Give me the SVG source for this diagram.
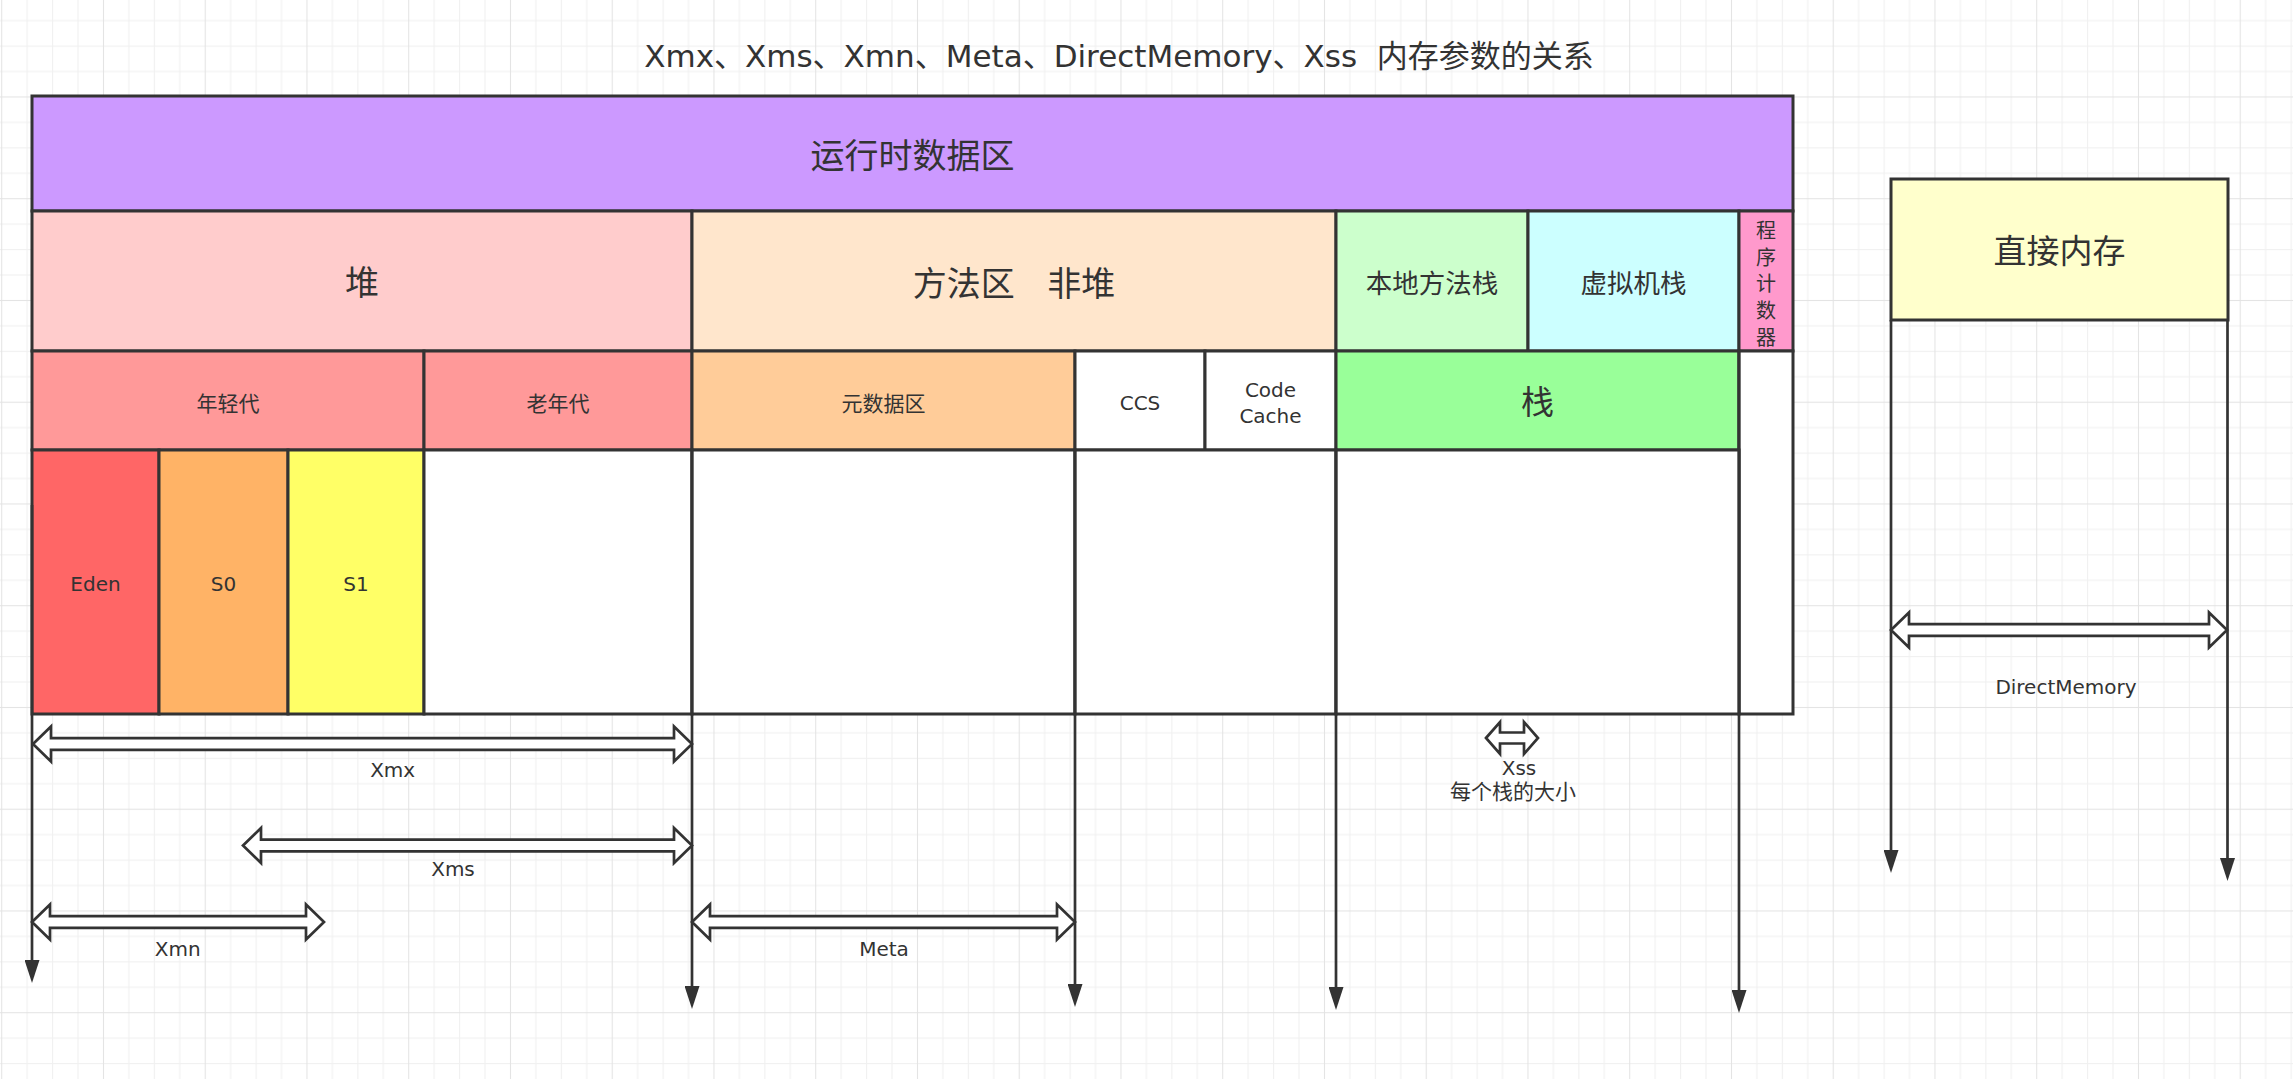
<svg xmlns="http://www.w3.org/2000/svg" width="2293" height="1079" viewBox="0 0 2293 1079">
<style>
.cell{stroke:#333333;stroke-width:3}
.t{font-family:"DejaVu Sans","Noto Sans CJK SC",sans-serif;fill:#333333;text-anchor:middle}
.big{font-size:34px}
.mid{font-size:26.5px}
.sm{font-size:20px}
.cjk{font-size:21px}
.vline{fill:none;stroke:#333333;stroke-width:2.7}
.barrow{fill:#ffffff;stroke:#333333;stroke-width:2.7;stroke-linejoin:miter}
</style>
<defs>
<pattern id="grid" patternUnits="userSpaceOnUse" x="1.2" y="-5.3" width="101.75" height="101.75">
<rect x="0" y="0" width="101.75" height="101.75" fill="#ffffff"/>
<g fill="#f0f0f0">
<rect x="25.44" y="0" width="1" height="101.75"/>
<rect x="50.88" y="0" width="1" height="101.75"/>
<rect x="76.31" y="0" width="1" height="101.75"/>
<rect x="0" y="25.44" width="101.75" height="1"/>
<rect x="0" y="50.88" width="101.75" height="1"/>
<rect x="0" y="76.31" width="101.75" height="1"/>
</g>
<g fill="#e3e3e3">
<rect x="0" y="0" width="1" height="101.75"/>
<rect x="0" y="0" width="101.75" height="1"/>
</g>
</pattern>
<marker id="ah" viewBox="0 0 23 15" markerUnits="userSpaceOnUse" markerWidth="23" markerHeight="15" refX="13" refY="7.5" orient="auto">
<path d="M0,0 L23,7.5 L0,15 Z" fill="#333333"/>
</marker>
</defs>
<rect x="0" y="0" width="2293" height="1079" fill="url(#grid)"/>

<text class="t" x="1119" y="67" font-size="31px" xml:space="preserve">Xmx、Xms、Xmn、Meta、DirectMemory、Xss  内存参数的关系</text>

<g id="runtime"><rect class="cell" x="32" y="96" width="1761" height="115" fill="#CC99FF"/><text class="t big" x="912.5" y="168">运行时数据区</text></g>
<g id="heap"><rect class="cell" x="32" y="211" width="660" height="140" fill="#FFCCCC"/><text class="t big" x="362" y="295">堆</text></g>
<g id="method"><rect class="cell" x="692" y="211" width="644" height="140" fill="#FFE6CC"/><text class="t big" x="1014" y="296" xml:space="preserve">方法区   非堆</text></g>
<g id="native"><rect class="cell" x="1336" y="211" width="192" height="140" fill="#CCFFCC"/><text class="t mid" x="1432" y="292.5">本地方法栈</text></g>
<g id="vmstack"><rect class="cell" x="1528" y="211" width="211" height="140" fill="#CCFFFF"/><text class="t mid" x="1633.5" y="292.5">虚拟机栈</text></g>
<g id="pc"><rect class="cell" x="1739" y="211" width="54" height="140" fill="#FF99CC"/><text class="t" font-size="20px" x="1766"><tspan x="1766" y="238">程</tspan><tspan x="1766" y="264.7">序</tspan><tspan x="1766" y="291.3">计</tspan><tspan x="1766" y="318">数</tspan><tspan x="1766" y="344.7">器</tspan></text></g>

<g id="young"><rect class="cell" x="32" y="351" width="392" height="99" fill="#FF9999"/><text class="t cjk" x="228" y="410.5">年轻代</text></g>
<g id="old"><rect class="cell" x="424" y="351" width="268" height="99" fill="#FF9999"/><text class="t cjk" x="558" y="410.5">老年代</text></g>
<g id="metadata"><rect class="cell" x="692" y="351" width="383" height="99" fill="#FFCC99"/><text class="t cjk" x="883.5" y="410.5">元数据区</text></g>
<g id="ccs"><rect class="cell" x="1075" y="351" width="130" height="99" fill="#FFFFFF"/><text class="t sm" x="1140" y="409.5">CCS</text></g>
<g id="codecache"><rect class="cell" x="1205" y="351" width="131" height="99" fill="#FFFFFF"/><text class="t sm" x="1270.5"><tspan x="1270.5" y="396.7">Code</tspan><tspan x="1270.5" y="423.3">Cache</tspan></text></g>
<g id="stack"><rect class="cell" x="1336" y="351" width="403" height="99" fill="#99FF99"/><text class="t" font-size="33px" x="1537.5" y="414">栈</text></g>
<g id="pcbelow"><rect class="cell" x="1739" y="351" width="54" height="363" fill="#FFFFFF"/></g>

<g id="eden"><rect class="cell" x="32" y="450" width="127" height="264" fill="#FF6666"/><text class="t sm" x="95.5" y="591">Eden</text></g>
<g id="s0"><rect class="cell" x="159" y="450" width="129" height="264" fill="#FFB366"/><text class="t sm" x="223.5" y="591">S0</text></g>
<g id="s1"><rect class="cell" x="288" y="450" width="136" height="264" fill="#FFFF66"/><text class="t sm" x="356" y="591">S1</text></g>
<g id="oldbelow"><rect class="cell" x="424" y="450" width="268" height="264" fill="#FFFFFF"/></g>
<g id="metabelow"><rect class="cell" x="692" y="450" width="383" height="264" fill="#FFFFFF"/></g>
<g id="ccsbelow"><rect class="cell" x="1075" y="450" width="261" height="264" fill="#FFFFFF"/></g>
<g id="stackbelow"><rect class="cell" x="1336" y="450" width="403" height="264" fill="#FFFFFF"/></g>

<g id="directmemory"><rect class="cell" x="1891" y="179" width="337" height="141" fill="#FFFFCC"/><text class="t" font-size="33px" x="2059.5" y="262.5">直接内存</text></g>

<g id="connectors">
<path class="vline" d="M32,505 V973" marker-end="url(#ah)"/>
<path class="vline" d="M692,450 V999" marker-end="url(#ah)"/>
<path class="vline" d="M1075,450 V997" marker-end="url(#ah)"/>
<path class="vline" d="M1336,450 V1000" marker-end="url(#ah)"/>
<path class="vline" d="M1739,351 V1003" marker-end="url(#ah)"/>
<path class="vline" d="M1891,320 V863" marker-end="url(#ah)"/>
<path class="vline" d="M2227.5,320 V871" marker-end="url(#ah)"/>

<path class="barrow" d="M33,744 L51,726.5 L51,738.2 L674,738.2 L674,726.5 L692,744 L674,761.5 L674,749.8 L51,749.8 L51,761.5 Z"/>
<path class="barrow" d="M243,845.5 L261,828 L261,839.7 L674,839.7 L674,828 L692,845.5 L674,863 L674,851.3 L261,851.3 L261,863 Z"/>
<path class="barrow" d="M32,922 L50,904.5 L50,916.2 L306,916.2 L306,904.5 L324,922 L306,939.5 L306,927.8 L50,927.8 L50,939.5 Z"/>
<path class="barrow" d="M692,922 L710,904.5 L710,916.2 L1057,916.2 L1057,904.5 L1075,922 L1057,939.5 L1057,927.8 L710,927.8 L710,939.5 Z"/>
<path class="barrow" d="M1891,630 L1909,612.5 L1909,624.2 L2209,624.2 L2209,612.5 L2227,630 L2209,647.5 L2209,635.8 L1909,635.8 L1909,647.5 Z"/>
<path class="barrow" d="M1486,738 L1500,722 L1500,732.5 L1524,732.5 L1524,722 L1538,738 L1524,754 L1524,743.5 L1500,743.5 L1500,754 Z"/>

<text class="t sm" x="392.7" y="777">Xmx</text>
<text class="t sm" x="453" y="876">Xms</text>
<text class="t sm" x="177.7" y="955.7">Xmn</text>
<text class="t sm" x="884" y="956">Meta</text>
<text class="t sm" x="2066" y="694">DirectMemory</text>
<text class="t sm" x="1519" y="775">Xss</text>
<text class="t cjk" x="1513" y="799">每个栈的大小</text>
</g>
</svg>
